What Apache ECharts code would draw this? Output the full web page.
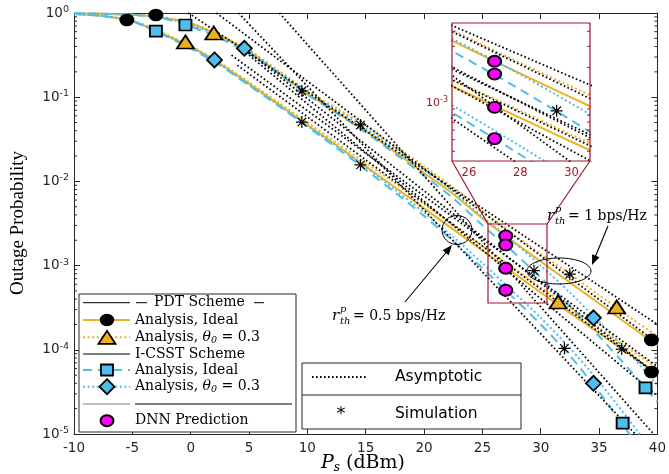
<!DOCTYPE html>
<html><head><meta charset="utf-8">
<script src="https://cdn.jsdelivr.net/npm/echarts@6/dist/echarts.min.js"></script>
<style>html,body{margin:0;padding:0;background:#fff}#c{width:669px;height:474px}</style>
</head><body><div id="c"></div>
<script>
// ---------------- DATA ----------------
const snrDb = [-10,-7.5,-5,-2.5,0,2.5,5,7.5,10,12.5,15,17.5,20,22.5,25,27.5,30,32.5,35,37.5,40];
// r_th^p = 1 bps/Hz
const pdtIdealR1  = [0.991,0.977,0.955,0.891,0.750,0.537,0.347,0.195,0.110,0.0661,0.0398,0.0224,0.0126,7.08e-3,3.63e-3,2.0e-3,1.12e-3,6.31e-4,3.55e-4,2.0e-4,1.12e-4];
const pdtThetaR1  = [0.991,0.977,0.955,0.891,0.759,0.550,0.363,0.209,0.120,0.0741,0.0457,0.0263,0.0151,8.51e-3,4.47e-3,2.45e-3,1.38e-3,7.94e-4,4.47e-4,2.51e-4,1.45e-4];
const csstIdealR1 = [0.991,0.977,0.951,0.871,0.692,0.501,0.331,0.191,0.107,0.0646,0.0380,0.0214,0.0117,6.31e-3,3.02e-3,1.51e-3,7.24e-4,3.31e-4,1.45e-4,6.03e-5,2.40e-5];
const csstThetaR1 = [0.991,0.977,0.951,0.881,0.724,0.525,0.355,0.200,0.115,0.0708,0.0427,0.0245,0.0138,7.59e-3,3.80e-3,2.0e-3,1.0e-3,4.79e-4,2.14e-4,9.33e-5,3.80e-5];
// r_th^p = 0.5 bps/Hz
const pdtIdealR05  = [0.973,0.923,0.804,0.575,0.398,0.251,0.145,0.0832,0.0468,0.0269,0.0151,8.51e-3,4.79e-3,2.69e-3,1.51e-3,8.51e-4,4.79e-4,2.75e-4,1.58e-4,9.12e-5,5.25e-5];
const pdtThetaR05  = [0.973,0.923,0.813,0.589,0.407,0.257,0.151,0.0871,0.0501,0.0288,0.0166,9.55e-3,5.37e-3,3.02e-3,1.70e-3,9.77e-4,5.50e-4,3.16e-4,1.82e-4,1.05e-4,6.03e-5];
const csstIdealR05 = [0.973,0.918,0.794,0.562,0.380,0.240,0.138,0.0794,0.0447,0.0251,0.0138,7.41e-3,3.89e-3,1.95e-3,9.33e-4,4.37e-4,2.0e-4,8.51e-5,3.16e-5,1.05e-5,3.55e-6];
const csstThetaR05 = [0.973,0.920,0.798,0.569,0.389,0.245,0.141,0.0813,0.0457,0.0263,0.0148,7.94e-3,4.27e-3,2.19e-3,1.07e-3,5.13e-4,2.40e-4,1.05e-4,4.17e-5,1.51e-5,5.25e-6];
// asymptotes (straight lines on dB / log scale): [x, value] end points
const asymPdtThetaR1   = [[-0.2, 1], [40, 2.0e-4]];
const asymPdtIdealR1   = [[2.2, 1], [40, 1.2e-4]];
const asymCsstThetaR1  = [[5, 0.339], [40, 5.0e-5]];
const asymCsstIdealR1  = [[5, 0.316], [40, 2.82e-5]];
const asymPdtThetaR05  = [[3.5, 0.316], [40, 6.31e-5]];
const asymPdtIdealR05  = [[4, 0.24], [40, 5.0e-5]];
const asymCsstThetaR05 = [[7.6, 1], [40, 8.9e-6]];
const asymCsstIdealR05 = [[4.1, 1], [40, 5.25e-6]];
// markers
const pdtIdealMarks  = [[-5.47,0.826],[-2.98,0.946],[39.49,1.31e-4],[39.49,5.45e-5]];
const pdtThetaMarks  = [[-0.45,0.453],[1.98,0.579],[31.49,3.70e-4],[36.51,3.23e-4]];
const csstIdealMarks = [[-2.98,0.611],[-0.45,0.72],[38.98,3.52e-5],[37.02,1.35e-5]];
const csstThetaMarks = [[2.04,0.277],[4.6,0.381],[34.52,2.40e-4],[34.52,4.0e-5]];
const simulationPts  = [[9.53,0.1185],[9.53,0.0507],[14.55,0.0468],[14.55,0.0157],[29.42,8.7e-4],[32.49,7.9e-4],[32.03,1.04e-4],[36.94,1.02e-4],[39.49,5.45e-5]];
const dnnPts         = [[27,2.25e-3],[27,1.76e-3],[27,9.3e-4],[27,5.1e-4]];
// axis ticks
const xTicksMain = [-10,-5,0,5,10,15,20,25,30,35,40];
const yMinorMain = [2e-5,3e-5,4e-5,5e-5,6e-5,7e-5,8e-5,9e-5,2e-4,3e-4,4e-4,5e-4,6e-4,7e-4,8e-4,9e-4,2e-3,3e-3,4e-3,5e-3,6e-3,7e-3,8e-3,9e-3,2e-2,3e-2,4e-2,5e-2,6e-2,7e-2,8e-2,9e-2,0.2,0.3,0.4,0.5,0.6,0.7,0.8,0.9];
const xTicksInset = [26,28,30];
const yMinorInset = [4e-4,5e-4,6e-4,7e-4,8e-4,9e-4,2e-3,3e-3,4e-3];

// ---------------- STYLE ----------------
const ORANGE = '#EDB120', BLUE = '#4DBEEE', MAG = '#FF00FF', RED = '#A2142F', AX = '#262626';
const SERIF = '"DejaVu Serif", serif', SANS = '"DejaVu Sans", sans-serif';
const STAR = 'path://M9,0h2v20h-2Z M0,9h20v2h-20Z M2.2,3.6L3.6,2.2L17.8,16.4L16.4,17.8Z M16.4,2.2L17.8,3.6L3.6,17.8L2.2,16.4Z';
const sOrangeSolid = {color: ORANGE, width: 2, type: 'solid'};
const sOrangeDot = {color: ORANGE, width: 2, type: [2, 2.6]};
const sBlueDash = {color: BLUE, width: 2, type: [9, 6]};
const sBlueDot = {color: BLUE, width: 2, type: [2, 2.6]};
const sAsym = {color: '#000', width: 1.8, type: [1.6, 2.4]};

const curves = [
  [pdtIdealR1, sOrangeSolid], [pdtThetaR1, sOrangeDot], [csstIdealR1, sBlueDash], [csstThetaR1, sBlueDot],
  [pdtIdealR05, sOrangeSolid], [pdtThetaR05, sOrangeDot], [csstIdealR05, sBlueDash], [csstThetaR05, sBlueDot]
];
const asyms = [asymPdtThetaR1, asymPdtIdealR1, asymCsstThetaR1, asymCsstIdealR1, asymPdtThetaR05, asymPdtIdealR05, asymCsstThetaR05, asymCsstIdealR05];

function buildSeries(ax, zBase) {
  const out = [];
  curves.forEach(([arr, st]) => out.push({
    type: 'line', xAxisIndex: ax.x, yAxisIndex: ax.y, data: snrDb.map((x, i) => [x, arr[i]]),
    showSymbol: false, smooth: 0.25, lineStyle: st, clip: true, z: zBase, silent: true, animation: false
  }));
  asyms.forEach(arr => out.push({
    type: 'line', xAxisIndex: ax.x, yAxisIndex: ax.y, data: arr, showSymbol: false,
    lineStyle: sAsym, clip: true, z: zBase, silent: true, animation: false
  }));
  return out;
}
function scatter(ax, data, symbol, size, fill, z, bw) {
  return {type: 'scatter', xAxisIndex: ax.x, yAxisIndex: ax.y, data: data, symbol: symbol, symbolSize: size,
    itemStyle: {color: fill, borderColor: '#000', borderWidth: bw === undefined ? 1.8 : bw, opacity: 1}, z: z, clip: true, silent: true, animation: false};
}
function minorTicks(ax, vals, xEdges, len, color, z) {
  return {type: 'custom', xAxisIndex: ax.x, yAxisIndex: ax.y, data: vals.map(v => [xEdges[0], v, xEdges[1]]), z: z, silent: true, animation: false, clip: false,
    renderItem: (params, api) => {
      const a = api.coord([api.value(0), api.value(1)]);
      const b = api.coord([api.value(2), api.value(1)]);
      return {type: 'group', children: [
        {type: 'line', shape: {x1: a[0], y1: a[1], x2: a[0] + len, y2: a[1]}, style: {stroke: color, lineWidth: 1}},
        {type: 'line', shape: {x1: b[0], y1: b[1], x2: b[0] - len, y2: b[1]}, style: {stroke: color, lineWidth: 1}}
      ]};
    }};
}
const MAIN = {x: 0, y: 0}, INS = {x: 2, y: 2};
const series = [].concat(
  buildSeries(MAIN, 2),
  [
    scatter(MAIN, pdtIdealMarks, 'circle', [13, 11], '#000', 5),
    scatter(MAIN, pdtThetaMarks, 'triangle', [17, 13], ORANGE, 5),
    scatter(MAIN, csstIdealMarks, 'rect', [12, 11], BLUE, 5),
    scatter(MAIN, csstThetaMarks, 'diamond', [15, 15], BLUE, 5),
    scatter(MAIN, dnnPts, 'circle', [13, 11], MAG, 6, 2),
    scatter(MAIN, simulationPts, STAR, [12, 12], '#000', 6, 0),
    minorTicks(MAIN, yMinorMain, [-10, 40], 3, AX, 4)
  ],
  buildSeries(INS, 60),
  [
    scatter(INS, dnnPts, 'circle', [13, 11], MAG, 62, 2),
    scatter(INS, simulationPts, STAR, [12, 12], '#000', 62, 0),
    minorTicks(INS, yMinorInset, [25.34, 30.72], 3, RED, 63)
  ]
);

const supRich = (c, fs, ss) => ({
  b: {fontSize: fs, fontFamily: SANS, color: c},
  s: {fontSize: ss, fontFamily: SANS, color: c, verticalAlign: 'top', padding: [0, 0, 7, 0]}
});
const expFmt = v => '{b|10}{s|' + Math.round(Math.log10(v)) + '}';

// ---------------- GRAPHIC (legends, annotations) ----------------
const Z = 100;
const g = [];
const line = (x1, y1, x2, y2, stroke, w, dash, z) => g.push({type: 'line', z: z || Z, silent: true, shape: {x1, y1, x2, y2}, style: {stroke, lineWidth: w, lineDash: dash || null}});
const txt = (x, y, text, font, extra, z) => g.push({type: 'text', z: z || Z, silent: true, x, y, style: Object.assign({text, font, fill: '#000', textVerticalAlign: 'middle'}, extra || {})});

// inset background / frame / connectors
g.push({type: 'rect', z: 50, silent: true, shape: {x: 452, y: 23, width: 138, height: 138}, style: {fill: '#fff', stroke: null}});
g.push({type: 'rect', z: 70, silent: true, shape: {x: 452, y: 23, width: 138, height: 138}, style: {fill: null, stroke: RED, lineWidth: 1.2}});
g.push({type: 'rect', z: 70, silent: true, shape: {x: 488, y: 224, width: 59, height: 79}, style: {fill: null, stroke: RED, lineWidth: 1.2}});
line(452, 161, 488, 224, RED, 1.2, null, 70);
line(590, 161, 547, 224, RED, 1.2, null, 70);

// annotations
g.push({type: 'ellipse', z: 70, silent: true, shape: {cx: 457, cy: 230, rx: 15, ry: 14.5}, style: {fill: null, stroke: '#000', lineWidth: 1}});
g.push({type: 'ellipse', z: 70, silent: true, shape: {cx: 559, cy: 271, rx: 32, ry: 13}, style: {fill: null, stroke: '#000', lineWidth: 1}});
line(405, 302, 449, 249, '#000', 1.1, null, 70);
g.push({type: 'polygon', z: 70, silent: true, shape: {points: [[452, 245], [448.7, 255.2], [442.5, 250.2]]}, style: {fill: '#000'}});
line(608, 226, 593.5, 261, '#000', 1.1, null, 70);
g.push({type: 'polygon', z: 70, silent: true, shape: {points: [[592, 265], [599.5, 257.3], [592.1, 254.3]]}, style: {fill: '#000'}});
// r_th^p labels
function rLabel(x, y, rest) {
  txt(x, y, 'r', 'italic 15px ' + SERIF, null, 70);
  txt(x + 8, y - 7, 'p', 'italic 10px ' + SERIF, null, 70);
  txt(x + 8, y + 5, 'th', 'italic 10px ' + SERIF, null, 70);
  txt(x + 21, y, rest, '14px ' + SERIF, null, 70);
}
rLabel(332, 316, '= 0.5 bps/Hz');
rLabel(547, 216, '= 1 bps/Hz');

// left legend
g.push({type: 'rect', z: Z, silent: true, shape: {x: 79, y: 294, width: 217, height: 138}, style: {fill: '#fff', stroke: AX, lineWidth: 1}});
const LX1 = 83, LX2 = 130, LM = 107, TX = 135;
const rows = [302.7, 320, 337.3, 354, 370, 386.7, 404, 420.7];
line(LX1, rows[0], LX2, rows[0], '#000', 1);
line(136, rows[0], 147, rows[0], '#000', 1);
txt(154, rows[0], 'PDT Scheme', '14px ' + SERIF);
line(254, rows[0], 264, rows[0], '#000', 1);
line(LX1, rows[1], LX2, rows[1], ORANGE, 2);
g.push({type: 'ellipse', z: Z, silent: true, shape: {cx: LM, cy: rows[1], rx: 6.5, ry: 5.5}, style: {fill: '#000', stroke: '#000', lineWidth: 1.5}});
txt(TX, rows[1], 'Analysis, Ideal', '14px ' + SERIF);
line(LX1, rows[2], LX2, rows[2], ORANGE, 2, [2, 2.6]);
g.push({type: 'polygon', z: Z, silent: true, shape: {points: [[98.5, rows[2] + 6.5], [115.5, rows[2] + 6.5], [107, rows[2] - 6.5]]}, style: {fill: ORANGE, stroke: '#000', lineWidth: 1.8}});
txt(TX, rows[2], 'Analysis, {i|θ}{sub|0} = 0.3', '14px ' + SERIF, {rich: {i: {font: 'italic 14px ' + SERIF}, sub: {font: 'italic 9.5px ' + SERIF, verticalAlign: 'bottom', padding: [6, 0, 0, 0]}}});
line(LX1, rows[3], LX2, rows[3], '#000', 1);
txt(TX, rows[3], 'I-CSST Scheme', '14px ' + SERIF);
line(LX1, rows[4], LX2, rows[4], BLUE, 2, [9, 6]);
g.push({type: 'rect', z: Z, silent: true, shape: {x: 101, y: rows[4] - 5.5, width: 12, height: 11}, style: {fill: BLUE, stroke: '#000', lineWidth: 1.8}});
txt(TX, rows[4], 'Analysis, Ideal', '14px ' + SERIF);
line(LX1, rows[5], LX2, rows[5], BLUE, 2, [2, 2.6]);
g.push({type: 'polygon', z: Z, silent: true, shape: {points: [[107, rows[5] - 7.5], [114.5, rows[5]], [107, rows[5] + 7.5], [99.5, rows[5]]]}, style: {fill: BLUE, stroke: '#000', lineWidth: 1.8}});
txt(TX, rows[5], 'Analysis, {i|θ}{sub|0} = 0.3', '14px ' + SERIF, {rich: {i: {font: 'italic 14px ' + SERIF}, sub: {font: 'italic 9.5px ' + SERIF, verticalAlign: 'bottom', padding: [6, 0, 0, 0]}}});
line(LX1, rows[6], LX2, rows[6], '#808080', 1);
line(135, rows[6], 292, rows[6], '#000', 1);
g.push({type: 'ellipse', z: Z, silent: true, shape: {cx: LM, cy: rows[7], rx: 6.5, ry: 5.5}, style: {fill: MAG, stroke: '#000', lineWidth: 2}});
txt(TX, rows[7], 'DNN Prediction', '14px ' + SERIF);

// right legend
g.push({type: 'rect', z: Z, silent: true, shape: {x: 302, y: 363, width: 219, height: 66}, style: {fill: '#fff', stroke: AX, lineWidth: 1}});
line(302, 395, 521, 395, AX, 1);
line(312, 377, 368, 377, '#000', 1.8, [1.6, 2.4]);
txt(395, 377, 'Asymptotic', '15.5px ' + SANS);
txt(341, 414, '*', '18px ' + SANS, {textAlign: 'center'});
txt(395, 414, 'Simulation', '15.5px ' + SANS);

// axis titles
g.push({type: 'text', z: Z, silent: true, x: 18, y: 223, rotation: Math.PI / 2,
  style: {text: 'Outage Probability', font: '19px "Liberation Serif", serif', fill: '#000', textAlign: 'center', textVerticalAlign: 'middle'}});
txt(321, 463, '{i|P}{sub|s} (dBm)', '19px ' + SERIF, {rich: {i: {font: 'italic 19px ' + SERIF}, sub: {font: 'italic 12px ' + SERIF, verticalAlign: 'bottom', padding: [9, 0, 0, 0]}}});

// ---------------- OPTION ----------------
const axisCommon = {
  axisLine: {show: true, onZero: false, lineStyle: {color: AX, width: 1}},
  axisTick: {show: true, inside: true, length: 6, lineStyle: {color: AX}},
  splitLine: {show: false}
};
const option = {
  animation: false,
  backgroundColor: '#fff',
  grid: [
    {left: 74, right: 8, top: 13, bottom: 40, containLabel: false},
    {left: 452, top: 23, width: 138, height: 138, containLabel: false}
  ],
  xAxis: [
    Object.assign({}, axisCommon, {gridIndex: 0, type: 'value', min: -10, max: 40, interval: 5, position: 'bottom',
      axisLabel: {fontFamily: SANS, fontSize: 13.5, color: AX, margin: 7}}),
    Object.assign({}, axisCommon, {gridIndex: 0, type: 'value', min: -10, max: 40, interval: 5, position: 'top',
      axisLabel: {show: false}}),
    {gridIndex: 1, type: 'value', min: 25.34, max: 30.72, position: 'bottom',
      axisLine: {show: false}, splitLine: {show: false},
      axisTick: {show: true, inside: true, length: 4, lineStyle: {color: RED}, customValues: xTicksInset},
      axisLabel: {fontFamily: SANS, fontSize: 11.5, color: RED, margin: 6, customValues: xTicksInset}},
    {gridIndex: 1, type: 'value', min: 25.34, max: 30.72, position: 'top',
      axisLine: {show: false}, splitLine: {show: false},
      axisTick: {show: true, inside: true, length: 4, lineStyle: {color: RED}, customValues: xTicksInset},
      axisLabel: {show: false}}
  ],
  yAxis: [
    Object.assign({}, axisCommon, {gridIndex: 0, type: 'log', logBase: 10, min: 1e-5, max: 1, position: 'left',
      axisLabel: {formatter: expFmt, rich: supRich(AX, 13.5, 9.5), margin: 5}}),
    Object.assign({}, axisCommon, {gridIndex: 0, type: 'log', logBase: 10, min: 1e-5, max: 1, position: 'right',
      axisLabel: {show: false}}),
    {gridIndex: 1, type: 'log', logBase: 10, min: 3.32e-4, max: 4.69e-3, position: 'left',
      axisLine: {show: false}, splitLine: {show: false},
      axisTick: {show: true, inside: true, length: 5, lineStyle: {color: RED}, customValues: [1e-3]},
      axisLabel: {formatter: expFmt, rich: supRich(RED, 11, 8), margin: 4, customValues: [1e-3], showMinLabel: false, showMaxLabel: false}}
  ],
  graphic: {elements: g},
  series: series
};
const chart = echarts.init(document.getElementById('c'));
chart.setOption(option);
</script>
</body></html>
